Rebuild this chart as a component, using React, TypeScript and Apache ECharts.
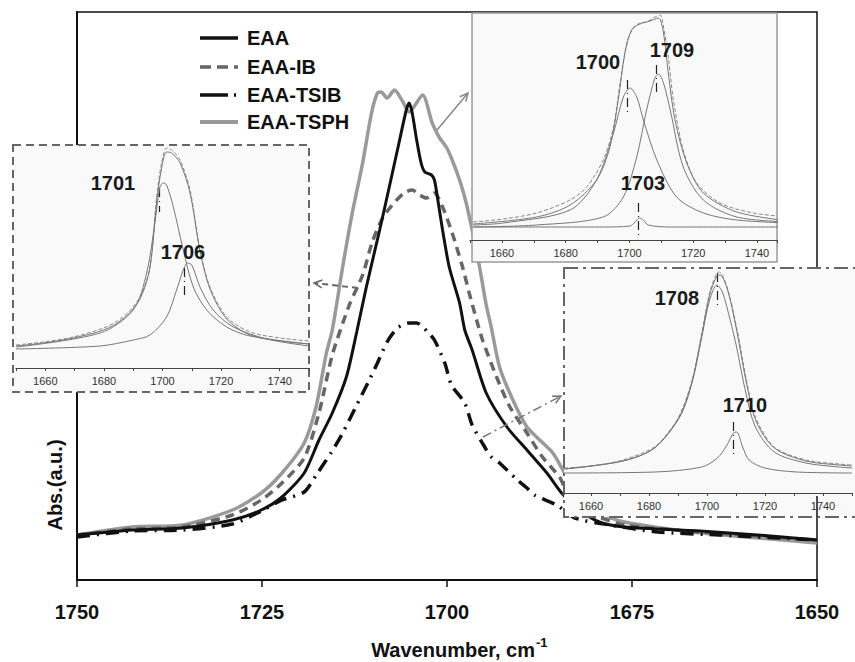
import React, { useEffect, useRef } from 'react';
import * as echarts from 'echarts';

const FONT = '"Liberation Sans", Arial, Helvetica, sans-serif';

// ---------- main chart data ----------
const mainTicks = [1750, 1725, 1700, 1675, 1650];
const legendNames = ['EAA', 'EAA-IB', 'EAA-TSIB', 'EAA-TSPH'];

const EAA: number[][] = [[1750,0.45],[1742.6,0.50],[1735.8,0.52],[1729.0,0.60],[1725.1,0.70],[1722.3,0.83],[1719.3,1.07],[1717.3,1.40],[1715.5,1.67],[1713.6,2.03],[1712.2,2.48],[1710.9,2.93],[1709.1,3.50],[1707.8,3.93],[1706.4,4.40],[1705.5,4.70],[1705.1,4.77],[1704.7,4.67],[1704.1,4.40],[1703.5,4.17],[1703.0,4.08],[1702.1,4.05],[1701.7,4.00],[1701.3,3.83],[1700.6,3.50],[1699.7,3.13],[1698.3,2.77],[1697.6,2.50],[1696.6,2.30],[1694.7,1.87],[1691.9,1.53],[1689.2,1.30],[1686.5,1.07],[1684.4,0.86],[1682.1,0.70],[1679.4,0.58],[1676.0,0.53],[1665.8,0.49],[1658.0,0.45],[1650,0.40]];

const EAA_IB: number[][] = [[1750,0.45],[1742.6,0.51],[1735.8,0.53],[1729.0,0.65],[1725.1,0.80],[1722.3,0.97],[1719.3,1.22],[1717.3,1.67],[1715.5,2.25],[1713.2,2.75],[1711.4,3.05],[1710.1,3.38],[1708.7,3.62],[1707.4,3.75],[1705.8,3.87],[1704.7,3.90],[1703.7,3.85],[1702.8,3.82],[1701.7,3.87],[1700.6,3.73],[1699.3,3.47],[1697.9,3.13],[1697.0,2.87],[1696.0,2.60],[1695.2,2.40],[1693.3,2.03],[1691.5,1.73],[1689.2,1.47],[1687.1,1.23],[1684.8,1.03],[1684.1,0.93],[1682.1,0.75],[1679.4,0.63],[1676.0,0.55],[1665.8,0.48],[1650,0.40]];

const EAA_TSIB: number[][] = [[1750,0.43],[1742.6,0.49],[1735.8,0.50],[1729.0,0.56],[1725.1,0.69],[1722.3,0.80],[1719.3,0.88],[1717.5,1.07],[1715.6,1.28],[1714.1,1.47],[1712.4,1.72],[1710.5,2.00],[1709.4,2.17],[1708.1,2.38],[1706.7,2.52],[1705.1,2.57],[1704.1,2.57],[1702.6,2.48],[1701.7,2.40],[1700.3,2.17],[1699.4,1.95],[1697.6,1.77],[1696.6,1.55],[1694.9,1.33],[1694.0,1.23],[1692.9,1.17],[1690.5,1.00],[1689.2,0.92],[1688.2,0.85],[1685.2,0.75],[1682.7,0.62],[1678.0,0.55],[1671.5,0.48],[1663.1,0.45],[1650,0.40]];

const EAA_TSPH: number[][] = [[1750,0.45],[1742.6,0.53],[1735.8,0.55],[1729.0,0.70],[1725.1,0.87],[1722.3,1.07],[1719.3,1.37],[1717.7,1.73],[1716.3,2.27],[1715.5,2.50],[1714.1,3.13],[1712.8,3.67],[1711.4,4.17],[1710.2,4.67],[1709.4,4.87],[1708.9,4.88],[1708.1,4.82],[1707.1,4.90],[1706.1,4.80],[1705.1,4.68],[1703.3,4.85],[1702.0,4.57],[1701.0,4.42],[1700.1,4.33],[1699.3,4.20],[1698.3,4.00],[1697.4,3.77],[1696.6,3.50],[1695.6,3.13],[1694.7,2.75],[1694.0,2.52],[1692.9,2.13],[1691.1,1.80],[1689.2,1.53],[1687.9,1.43],[1685.7,1.27],[1684.5,1.12],[1683.5,0.98],[1682.1,0.80],[1679.4,0.67],[1676.0,0.58],[1666.9,0.48],[1658.0,0.42],[1650,0.37]];

// ---------- inset 1 (dashed frame, left) ----------
const in1Labels = ['1701', '1706'];
const in1Measured: number[][] = [[1650,0.23],[1659.3,0.26],[1669.6,0.31],[1679.8,0.40],[1686.6,0.51],[1692.3,0.71],[1695.7,1.01],[1698.0,1.71],[1699.7,2.05],[1701.4,2.20],[1703.1,2.18],[1706.0,2.08],[1709.4,1.78],[1712.8,1.18],[1716.2,0.81],[1721.9,0.51],[1729.9,0.36],[1740.1,0.30],[1750,0.27]];
const in1Fit: number[][] = [[1650,0.22],[1659.3,0.25],[1669.6,0.30],[1679.8,0.38],[1686.6,0.49],[1692.3,0.69],[1695.7,1.00],[1698.0,1.66],[1699.7,2.00],[1701.4,2.16],[1703.1,2.15],[1706.0,2.05],[1709.4,1.75],[1712.8,1.17],[1716.2,0.79],[1721.9,0.49],[1729.9,0.33],[1740.1,0.27],[1750,0.24]];
const in1P1701: number[][] = [[1650,0.21],[1678.7,0.35],[1690.0,0.58],[1694.6,0.95],[1697.4,1.45],[1699.1,1.81],[1700.3,1.85],[1701.4,1.83],[1703.7,1.61],[1707.1,1.18],[1710.5,0.81],[1715.1,0.58],[1721.9,0.41],[1729.9,0.32],[1750,0.24]];
const in1P1706: number[][] = [[1650,0.19],[1678.7,0.22],[1690.0,0.28],[1695.7,0.33],[1701.4,0.51],[1704.8,0.78],[1707.1,0.98],[1708.5,1.05],[1710.0,1.03],[1712.8,0.81],[1717.3,0.58],[1724.2,0.41],[1735.6,0.29],[1750,0.22]];

// ---------- inset 2 (solid frame, top right) ----------
const in2Labels = ['1700', '1709', '1703'];
const in2Measured: number[][] = [[1651.0,0.18],[1660.5,0.21],[1670.9,0.27],[1681.4,0.40],[1686.6,0.53],[1691.8,0.80],[1695.0,1.13],[1697.1,1.57],[1699.2,1.97],[1701.2,2.12],[1703.3,2.17],[1705.4,2.18],[1707.5,2.22],[1709.6,2.25],[1710.7,2.13],[1712.2,1.83],[1713.8,1.40],[1716.9,0.90],[1721.1,0.57],[1728.4,0.37],[1738.9,0.27],[1750,0.23]];
const in2Fit: number[][] = [[1651.0,0.16],[1670.9,0.23],[1681.4,0.35],[1689.7,0.60],[1693.9,0.93],[1696.5,1.40],[1698.6,1.87],[1700.7,2.10],[1703.3,2.16],[1706.5,2.19],[1709.1,2.22],[1710.7,2.07],[1712.2,1.67],[1714.3,1.20],[1718.0,0.77],[1723.2,0.47],[1733.7,0.28],[1750,0.19]];
const in2P1700: number[][] = [[1651.0,0.15],[1660.5,0.17],[1681.4,0.30],[1689.7,0.60],[1695.0,1.07],[1698.1,1.43],[1700.2,1.52],[1702.3,1.43],[1704.4,1.20],[1708.6,0.80],[1714.8,0.43],[1723.2,0.27],[1733.7,0.20],[1750,0.17]];
const in2P1709: number[][] = [[1651.0,0.13],[1670.9,0.15],[1691.8,0.23],[1698.1,0.43],[1702.3,0.83],[1705.4,1.30],[1708.0,1.62],[1709.1,1.66],[1710.7,1.57],[1712.8,1.30],[1716.9,0.73],[1723.2,0.40],[1733.7,0.23],[1750,0.18]];
const in2P1703: number[][] = [[1651.0,0.13],[1691.8,0.13],[1700.2,0.14],[1701.8,0.18],[1703.1,0.22],[1704.4,0.20],[1705.9,0.15],[1712.8,0.13],[1750,0.13]];

// ---------- inset 3 (dash-dot frame, bottom right) ----------
const in3Labels = ['1708', '1710'];
const in3Measured: number[][] = [[1650.8,0.25],[1660.1,0.27],[1671.0,0.33],[1681.9,0.46],[1687.3,0.63],[1690.6,0.78],[1694.9,1.13],[1698.2,1.60],[1700.9,2.00],[1703.1,2.18],[1704.2,2.21],[1706.9,2.06],[1710.2,1.66],[1713.4,1.16],[1716.7,0.76],[1723.2,0.46],[1734.1,0.33],[1745.5,0.29],[1750,0.28]];
const in3Fit: number[][] = [[1650.8,0.24],[1671.0,0.32],[1681.9,0.45],[1690.6,0.77],[1694.9,1.12],[1698.2,1.58],[1700.9,1.98],[1703.4,2.17],[1704.5,2.18],[1707.2,2.02],[1710.4,1.60],[1713.6,1.10],[1716.9,0.72],[1723.2,0.45],[1734.1,0.32],[1745.5,0.28],[1750,0.27]];
const in3P1708: number[][] = [[1650.8,0.24],[1671.0,0.32],[1681.9,0.45],[1690.6,0.76],[1694.9,1.11],[1698.2,1.56],[1700.9,1.93],[1703.4,2.08],[1705.3,2.01],[1708.0,1.73],[1710.2,1.46],[1713.4,1.00],[1716.7,0.66],[1723.2,0.41],[1734.1,0.30],[1745.5,0.26],[1750,0.25]];
const in3P1710: number[][] = [[1650.8,0.20],[1681.9,0.21],[1698.2,0.26],[1703.6,0.35],[1706.9,0.48],[1709.1,0.60],[1710.2,0.61],[1712.3,0.46],[1714.5,0.33],[1719.9,0.25],[1730.8,0.21],[1750,0.20]];

// peak marker segments [wavenumber, yFrom, yTo]
const in1Marks = [[1698.8, 1.80, 1.56], [1707.3, 1.00, 0.70]];
const in2Marks = [[1699.2, 1.60, 1.28], [1708.3, 1.75, 1.45], [1702.7, 0.37, 0.05]];
const in3Marks = [[1703.4, 2.20, 1.88], [1709.0, 0.71, 0.38]];

const smallLabel = (v: number) => {
  const r = Math.round(v);
  if (Math.abs(r - v) > 1e-6) return '';
  return (r - 1660) % 20 === 0 && r >= 1660 && r <= 1740 ? String(r) : '';
};

function markLine(marks: number[][]) {
  return {
    silent: true,
    symbol: 'none',
    animation: false,
    label: { show: false },
    lineStyle: { color: '#222', width: 1.2, type: [9, 4, 1, 4] },
    data: marks.map((m) => [{ coord: [m[0], m[1]] }, { coord: [m[0], m[2]] }]),
  };
}

function arrowHead(x1: number, y1: number, x2: number, y2: number, len = 9, ang = 0.45) {
  const a = Math.atan2(y1 - y2, x1 - x2);
  return [
    [x2 + len * Math.cos(a + ang), y2 + len * Math.sin(a + ang)],
    [x2, y2],
    [x2 + len * Math.cos(a - ang), y2 + len * Math.sin(a - ang)],
  ];
}

function arrow(x1: number, y1: number, x2: number, y2: number, color: string, width: number, dash: any) {
  return [
    { type: 'polyline', z: 30, shape: { points: [[x1, y1], [x2, y2]] }, style: { stroke: color, lineWidth: width, fill: null, lineDash: dash } },
    { type: 'polyline', z: 30, shape: { points: arrowHead(x1, y1, x2, y2) }, style: { stroke: color, lineWidth: 1.5, fill: null } },
  ];
}

export default function App() {
  const ref = useRef<HTMLDivElement>(null);
  useEffect(() => {
    if (!ref.current) return;
    const chart = echarts.init(ref.current, undefined, { renderer: 'svg' });

    const insetX = (gridIndex: number, max: number) => ({
      type: 'value', gridIndex, min: 1650, max, interval: 10, z: 12,
      axisLine: { show: true, onZero: false, lineStyle: { color: '#444', width: 1 } },
      axisTick: { show: true, length: 3, lineStyle: { color: '#444', width: 1 } },
      axisLabel: { formatter: smallLabel, fontSize: 11, color: '#333', fontFamily: FONT, margin: 7 },
      splitLine: { show: false },
    });
    const insetY = (gridIndex: number, max: number) => ({
      type: 'value', gridIndex, min: 0, max, show: false, splitLine: { show: false },
    });
    const comp = (data: number[][], idx: number, extra: any = {}) => ({
      type: 'line', data, xAxisIndex: idx, yAxisIndex: idx, z: 12, showSymbol: false, smooth: 0.3,
      silent: true, lineStyle: { color: '#777', width: 1 }, ...extra,
    });
    const meas = (data: number[][], idx: number) => comp(data, idx, { lineStyle: { color: '#888', width: 1, type: [4, 2] } });

    const mainLine = (name: string, data: number[][], color: string, width: number, type: any, z: number) => ({
      name, type: 'line', data, xAxisIndex: 0, yAxisIndex: 0, z, showSymbol: false, smooth: 0.25,
      lineStyle: { color, width, type, cap: 'butt' },
    });

    const legendY = [38, 67, 95, 122];
    const legendStyles: any[] = [
      { stroke: '#111', lineWidth: 3.5 },
      { stroke: '#666', lineWidth: 3.5, lineDash: [11, 6] },
      { stroke: '#111', lineWidth: 3.5, lineDash: [28, 6, 2, 10] },
      { stroke: '#999', lineWidth: 4 },
    ];

    const labelText = (t: string, x: number, y: number) => ({
      type: 'text', z: 30, x, y,
      style: { text: t, fontSize: 20, fontWeight: 'bold', fontFamily: FONT, fill: '#1a1a1a', align: 'center', verticalAlign: 'middle' },
    });

    const graphic: any[] = [
      // inset frames / backgrounds
      { type: 'rect', z: 5, shape: { x: 13, y: 145, width: 296, height: 247 }, style: { fill: '#f9f9f9', stroke: '#666', lineWidth: 2, lineDash: [8, 5] } },
      { type: 'rect', z: 5, shape: { x: 472, y: 13, width: 305, height: 249 }, style: { fill: '#f9f9f9', stroke: '#9a9a9a', lineWidth: 1.5 } },
      { type: 'rect', z: 5, shape: { x: 564, y: 268, width: 310, height: 249 }, style: { fill: '#f9f9f9', stroke: '#666', lineWidth: 2, lineDash: [14, 5, 3, 5] } },
      { type: 'line', z: 30, shape: { x1: 817, y1: 496, x2: 817, y2: 517 }, style: { stroke: '#111', lineWidth: 1.5 } },
      // arrows
      ...arrow(437, 130, 468, 93, '#888', 1.5, null),
      ...arrow(358, 288, 314, 283, '#666', 2, [6, 4]),
      ...arrow(483, 437, 561, 396, '#777', 1.5, [9, 4, 2, 4]),
      // legend
      ...legendNames.flatMap((n, i) => [
        { type: 'line', z: 30, shape: { x1: 200, y1: legendY[i], x2: 238, y2: legendY[i] }, style: legendStyles[i] },
        { type: 'text', z: 30, x: 247, y: legendY[i], style: { text: n, fontSize: 20, fontWeight: 'bold', fontFamily: FONT, fill: '#111', align: 'left', verticalAlign: 'middle' } },
      ]),
      // peak labels
      labelText(in1Labels[0], 113, 183), labelText(in1Labels[1], 183, 252),
      labelText(in2Labels[0], 598, 62), labelText(in2Labels[1], 672, 50), labelText(in2Labels[2], 643, 183),
      labelText(in3Labels[0], 677, 298), labelText(in3Labels[1], 745, 405),
      // axis names
      { type: 'text', z: 30, x: 55, y: 485, rotation: Math.PI / 2, style: { text: 'Abs.(a.u.)', fontSize: 20, fontWeight: 'bold', fontFamily: FONT, fill: '#111', align: 'center', verticalAlign: 'middle' } },
      { type: 'text', z: 30, x: 535, y: 650, style: { text: 'Wavenumber, cm', fontSize: 20, fontWeight: 'bold', fontFamily: FONT, fill: '#111', align: 'right', verticalAlign: 'middle' } },
      { type: 'text', z: 30, x: 536, y: 642, style: { text: '-1', fontSize: 13, fontWeight: 'bold', fontFamily: FONT, fill: '#111', align: 'left', verticalAlign: 'middle' } },
    ];

    const option: any = {
      animation: false,
      backgroundColor: '#fff',
      textStyle: { fontFamily: FONT },
      grid: [
        { left: 77, right: 38, top: 12, bottom: 82, show: true, borderColor: '#111', borderWidth: 1.5, backgroundColor: 'transparent' },
        { left: 16, top: 146, width: 293, height: 222 },
        { left: 470, top: 14, width: 307, height: 226 },
        { left: 562, top: 269, width: 306, height: 224 },
      ],
      xAxis: [
        {
          type: 'value', gridIndex: 0, min: 1650, max: 1750, interval: 25, inverse: true,
          axisLine: { lineStyle: { color: '#111', width: 2 } },
          axisTick: { length: 7, lineStyle: { color: '#111', width: 1.5 } },
          axisLabel: {
            fontSize: 20, fontWeight: 'bold', color: '#111', fontFamily: FONT, margin: 22,
            formatter: (v: number) => (mainTicks.includes(v) ? String(v) : ''),
          },
          splitLine: { show: false },
        },
        insetX(1, 1750),
        insetX(2, 1746.3),
        insetX(3, 1750),
      ],
      yAxis: [
        {
          type: 'value', gridIndex: 0, min: 0, max: 5.68,
          axisLine: { show: true, lineStyle: { color: '#111', width: 2 } },
          axisTick: { show: false }, axisLabel: { show: false }, splitLine: { show: false },
        },
        insetY(1, 2.22),
        insetY(2, 2.26),
        insetY(3, 2.24),
      ],
      graphic,
      series: [
        mainLine('EAA-TSPH', EAA_TSPH, '#9a9a9a', 3.5, 'solid', 2),
        mainLine('EAA-IB', EAA_IB, '#666', 3.5, [9, 6], 3),
        mainLine('EAA-TSIB', EAA_TSIB, '#111', 3.5, [13, 7, 2, 7], 3),
        mainLine('EAA', EAA, '#111', 3, 'solid', 4),
        // inset 1
        meas(in1Measured, 1),
        comp(in1Fit, 1),
        comp(in1P1701, 1, { markLine: markLine(in1Marks) }),
        comp(in1P1706, 1),
        // inset 2
        meas(in2Measured, 2),
        comp(in2Fit, 2),
        comp(in2P1700, 2, { markLine: markLine(in2Marks) }),
        comp(in2P1709, 2),
        comp(in2P1703, 2),
        // inset 3
        meas(in3Measured, 3),
        comp(in3Fit, 3),
        comp(in3P1708, 3, { markLine: markLine(in3Marks) }),
        comp(in3P1710, 3),
      ],
    };
    chart.setOption(option);
    return () => chart.dispose();
  }, []);

  return <div ref={ref} style={{ width: 855, height: 662, position: 'absolute', left: 0, top: 0 }} />;
}
